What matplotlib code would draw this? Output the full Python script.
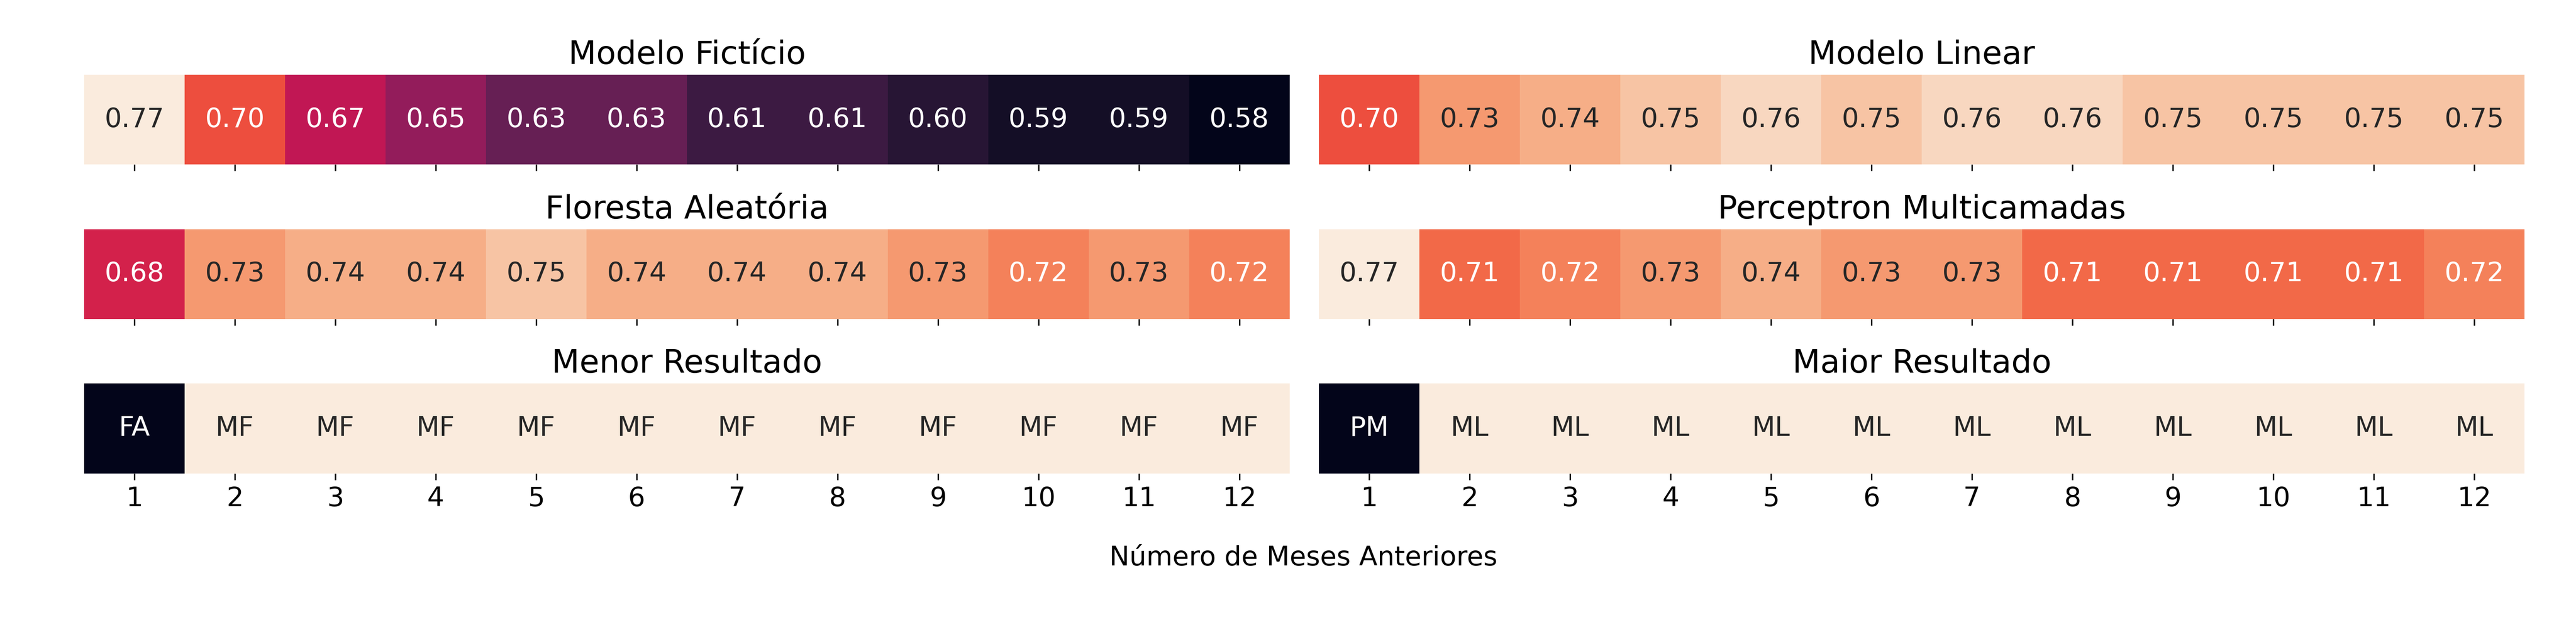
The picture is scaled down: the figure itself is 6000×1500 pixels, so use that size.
import numpy as np
import matplotlib
matplotlib.use("Agg")
import matplotlib.pyplot as plt
import seaborn as sns

plt.rcParams["font.size"] = 15

meses = list(range(1, 13))
modelo_ficticio = [0.77, 0.70, 0.67, 0.65, 0.63, 0.63, 0.61, 0.61, 0.60, 0.59, 0.59, 0.58]
modelo_linear = [0.70, 0.73, 0.74, 0.75, 0.76, 0.75, 0.76, 0.76, 0.75, 0.75, 0.75, 0.75]
floresta = [0.68, 0.73, 0.74, 0.74, 0.75, 0.74, 0.74, 0.74, 0.73, 0.72, 0.73, 0.72]
perceptron = [0.77, 0.71, 0.72, 0.73, 0.74, 0.73, 0.73, 0.71, 0.71, 0.71, 0.71, 0.72]
menor = ["FA"] + ["MF"] * 11
maior = ["PM"] + ["ML"] * 11

vmin = min(min(modelo_ficticio), min(modelo_linear), min(floresta), min(perceptron))
vmax = max(max(modelo_ficticio), max(modelo_linear), max(floresta), max(perceptron))

fig, axes = plt.subplots(3, 2, figsize=(20, 5), dpi=300)
fig.subplots_adjust(left=0.0327, right=0.980, top=0.884, bottom=0.265, wspace=0.0245, hspace=0.72)

num = [("Modelo Fictício", modelo_ficticio, axes[0, 0]), ("Modelo Linear", modelo_linear, axes[0, 1]),
       ("Floresta Aleatória", floresta, axes[1, 0]), ("Perceptron Multicamadas", perceptron, axes[1, 1])]
for titulo, vals, ax in num:
    sns.heatmap(np.array([vals]), ax=ax, cmap="rocket", vmin=vmin, vmax=vmax, annot=True, fmt=".2f",
                cbar=False, xticklabels=meses, yticklabels=False, annot_kws={"fontsize": 15})
    ax.set_title(titulo, fontsize=18)
    ax.tick_params(axis="x", labelbottom=False)

for titulo, labs, ax in [("Menor Resultado", menor, axes[2, 0]), ("Maior Resultado", maior, axes[2, 1])]:
    cod = np.array([[0 if l == labs[0] else 1 for l in labs]])
    sns.heatmap(cod, ax=ax, cmap="rocket", vmin=0, vmax=1, annot=np.array([labs]), fmt="",
                cbar=False, xticklabels=meses, yticklabels=False, annot_kws={"fontsize": 15})
    ax.set_title(titulo, fontsize=18)
    ax.tick_params(axis="x", labelsize=15, rotation=0)

fig.text(0.506, 0.133, "Número de Meses Anteriores", ha="center", va="center", fontsize=15)
fig.savefig("out.png", dpi=300)
